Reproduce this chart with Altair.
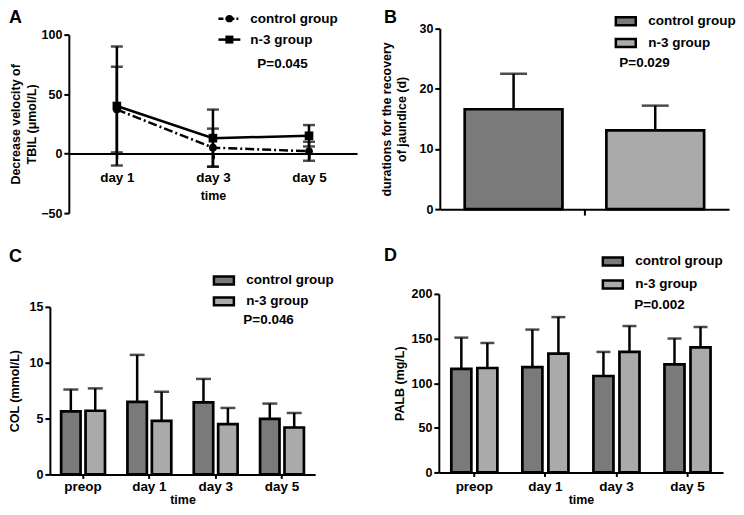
import altair as alt
import pandas as pd

FONT = "Liberation Sans"

# ---------------- data ----------------
groups = ["control group", "n-3 group"]

# Panel A (line chart, mean ± SD)
a_days = ["day 1", "day 3", "day 5"]
a_ctrl_mean = [37, 5, 2]
a_ctrl_sd = [36, 16, 8]
a_n3_mean = [40, 13, 15]
a_n3_sd = [50, 24, 9]
a_p = "P=0.045"

# Panel B
b_cat = ["all"]
b_mean = [16.6, 13.1]
b_sd = [5.9, 4.1]
b_p = "P=0.029"

# Panel C
times = ["preop", "day 1", "day 3", "day 5"]
c_ctrl_mean = [5.65, 6.5, 6.45, 4.97]
c_ctrl_sd = [1.95, 4.2, 2.1, 1.37]
c_n3_mean = [5.7, 4.8, 4.5, 4.2]
c_n3_sd = [2.0, 2.6, 1.45, 1.3]
c_p = "P=0.046"

# Panel D
d_ctrl_mean = [116, 118, 108, 121]
d_ctrl_sd = [35, 42, 27, 29]
d_n3_mean = [117, 133, 135, 140]
d_n3_sd = [28, 41, 29, 23]
d_p = "P=0.002"

fills = ["#7a7a7a", "#aaaaaa"]
LEG_FS = 13.5


def table(cats, cat_name, ctrl_mean, ctrl_sd, n3_mean, n3_sd):
    rows = []
    for g, ms, ss in [(groups[0], ctrl_mean, ctrl_sd), (groups[1], n3_mean, n3_sd)]:
        for c, m, s in zip(cats, ms, ss):
            rows.append({cat_name: c, "group": g, "mean": m, "lo": m - s, "hi": m + s})
    return pd.DataFrame(rows)


def label_layer(text, x, y, size=LEG_FS, align="left", baseline="middle"):
    return alt.Chart(pd.DataFrame({"t": [text]})).mark_text(
        font=FONT, fontWeight="bold", fontSize=size, color="black",
        align=align, baseline=baseline
    ).encode(x=alt.value(x), y=alt.value(y), text="t:N")


# ---------------- panel A ----------------
a_df = table(a_days, "day", a_ctrl_mean, a_ctrl_sd, a_n3_mean, a_n3_sd)
A_W, A_H, A_TOP = 289, 185, 6
a_x = alt.X("day:N", scale=alt.Scale(type="point", padding=0.5, domain=a_days),
            axis=alt.Axis(title="time", labelAngle=0, offset=-(A_H - A_TOP) * 50 / 150,
                          labelPadding=12, titlePadding=6))
a_yscale = alt.Scale(domain=[-50, 100], nice=False, zero=False, range=[A_H, A_TOP])
a_yaxis = alt.Axis(title=["Decrease velocity of", "TBIL (μmol/L)"],
                   values=[-50, 0, 50, 100], titlePadding=2, titleLineHeight=16)


def ay(f):
    return alt.Y(f, scale=a_yscale, axis=a_yaxis)


a_base = alt.Chart(a_df)
a_err = a_base.mark_rule(color="black", strokeWidth=2.5).encode(x=a_x, y=ay("lo:Q"), y2="hi:Q")
a_cap_lo = a_base.mark_tick(color="black", thickness=2.5, size=12).encode(x=a_x, y=ay("lo:Q"))
a_cap_hi = a_base.mark_tick(color="black", thickness=2.5, size=12).encode(x=a_x, y=ay("hi:Q"))
a_line_c = a_base.transform_filter(alt.datum.group == groups[0]).mark_line(
    color="black", strokeWidth=2.5, strokeDash=[9, 3, 2, 3]).encode(x=a_x, y=ay("mean:Q"))
a_line_n = a_base.transform_filter(alt.datum.group == groups[1]).mark_line(
    color="black", strokeWidth=2.5).encode(x=a_x, y=ay("mean:Q"))
a_pt_c = a_base.transform_filter(alt.datum.group == groups[0]).mark_point(
    shape="circle", filled=True, color="black", opacity=1, size=60).encode(x=a_x, y=ay("mean:Q"))
a_pt_n = a_base.transform_filter(alt.datum.group == groups[1]).mark_point(
    shape="square", filled=True, color="black", opacity=1, size=75).encode(x=a_x, y=ay("mean:Q"))

leg_c = pd.DataFrame({"t": [groups[0]]})
leg_n = pd.DataFrame({"t": [groups[1]]})
a_leg = [
    alt.Chart(leg_c).mark_rule(color="black", strokeWidth=2.5, strokeDash=[5, 2, 2, 2]).encode(
        x=alt.value(150), x2=alt.value(172), y=alt.value(-10)),
    alt.Chart(leg_c).mark_point(shape="circle", filled=True, color="black", opacity=1, size=55).encode(
        x=alt.value(161), y=alt.value(-10)),
    alt.Chart(leg_n).mark_rule(color="black", strokeWidth=2.5).encode(
        x=alt.value(150), x2=alt.value(172), y=alt.value(11)),
    alt.Chart(leg_n).mark_point(shape="square", filled=True, color="black", opacity=1, size=65).encode(
        x=alt.value(161), y=alt.value(11)),
    label_layer(groups[0], 182, -10),
    label_layer(groups[1], 182, 11),
    label_layer(a_p, 189, 35),
    label_layer("A", -60, -20, size=18, baseline="top"),
]
panel_a = alt.layer(a_err, a_cap_lo, a_cap_hi, a_line_c, a_line_n, a_pt_c, a_pt_n, *a_leg).properties(
    width=A_W, height=A_H)


# ---------------- bar panels ----------------
def bar_panel(df, cat_name, cats, W, H, shift, top, ydom, yvals, ytitle, ytpad, x_po, off_pi, off_po,
              cap, lx, ly, rowpad, p_text, px, py, letter, lex, ley, xlabels, lpad=1):
    if xlabels:
        xaxis = alt.Axis(title="time", labelAngle=0, tickSize=4, labelPadding=lpad, titlePadding=1)
    else:
        xaxis = alt.Axis(title=None, labels=False, tickSize=6)
    x = alt.X(f"{cat_name}:N", sort=cats,
              scale=alt.Scale(domain=cats, paddingInner=0, paddingOuter=x_po, range=[-shift, W]),
              axis=xaxis)
    xo = alt.XOffset("group:N", sort=groups,
                     scale=alt.Scale(domain=groups, paddingInner=off_pi, paddingOuter=off_po))
    ysc = alt.Scale(domain=ydom, nice=False, zero=False, range=[H, top])
    yax = alt.Axis(title=ytitle, values=yvals, titlePadding=ytpad, titleLineHeight=16, offset=shift)
    base = alt.Chart(df)
    bars = base.mark_bar(stroke="black", strokeWidth=2.7).encode(
        x=x, xOffset=xo, y=alt.Y("mean:Q", scale=ysc, axis=yax),
        fill=alt.Fill("group:N", scale=alt.Scale(domain=groups, range=fills),
                      legend=alt.Legend(title=None, orient="none", legendX=lx, legendY=ly,
                                        symbolType="M-1,-0.4H1V0.4H-1Z", symbolSize=400,
                                        symbolStrokeColor="black", symbolStrokeWidth=2.5,
                                        labelFont=FONT, labelFontWeight="bold", labelFontSize=LEG_FS,
                                        labelColor="black", labelOffset=11, rowPadding=rowpad,
                                        padding=0)))
    whisk = base.mark_rule(color="black", strokeWidth=2.5).encode(
        x=x, xOffset=xo, y=alt.Y("mean:Q", scale=ysc, axis=yax), y2="hi:Q")
    caps = base.mark_tick(color="black", thickness=2.5, size=cap).encode(
        x=x, xOffset=xo, y=alt.Y("hi:Q", scale=ysc, axis=yax))
    return alt.layer(bars, whisk, caps,
                     label_layer(p_text, px, py),
                     label_layer(letter, lex, ley, size=18, baseline="top")).properties(width=W, height=H)


b_df = table(b_cat, "cat", [b_mean[0]], [b_sd[0]], [b_mean[1]], [b_sd[1]])
panel_b = bar_panel(b_df, "cat", b_cat, 290, 181, 0, 0, [0, 30], [0, 10, 20, 30],
                    ["durations for the recovery", "of jaundice (d)"], 10,
                    0.104, 0.31, 0, 27, 175, -19, 1, b_p, 180, 34, "B", -56, -20, False)

c_df = table(times, "time", c_ctrl_mean, c_ctrl_sd, c_n3_mean, c_n3_sd)
panel_c = bar_panel(c_df, "time", times, 247, 179, 19, 11, [0, 15], [0, 5, 10, 15],
                    "COL (mmol/L)", 8, 0, 0.204, 0.46, 15, 144, -27, 0, c_p, 175, 24,
                    "C", -60, -48, True)

d_df = table(times, "time", d_ctrl_mean, d_ctrl_sd, d_n3_mean, d_n3_sd)
panel_d = bar_panel(d_df, "time", times, 284, 177, 1, -2, [0, 200], [0, 50, 100, 150, 200],
                    "PALB (mg/L)", 5, 0, 0.23, 0.48, 14, 162, -46, 2, d_p, 195, 9,
                    "D", -56, -49, True, lpad=3)

chart = alt.concat(panel_a, panel_b, panel_c, panel_d, columns=2, spacing=83, bounds="flush").resolve_scale(
    x="independent", y="independent", xOffset="independent", fill="independent"
).resolve_legend(fill="independent").configure_view(
    stroke=None
).configure_axis(
    domainColor="black", domainWidth=2, tickColor="black", tickWidth=2, tickSize=5,
    labelFont=FONT, labelFontWeight="bold", labelFontSize=12.5, labelColor="black",
    titleFont=FONT, titleFontWeight="bold", titleFontSize=12.5, titleColor="black",
    grid=False, labelPadding=2
).configure_axisX(labelFontSize=13.5).properties(padding=0, background="white")

chart.save("out.html", embed_options={"renderer": "svg", "actions": False})
